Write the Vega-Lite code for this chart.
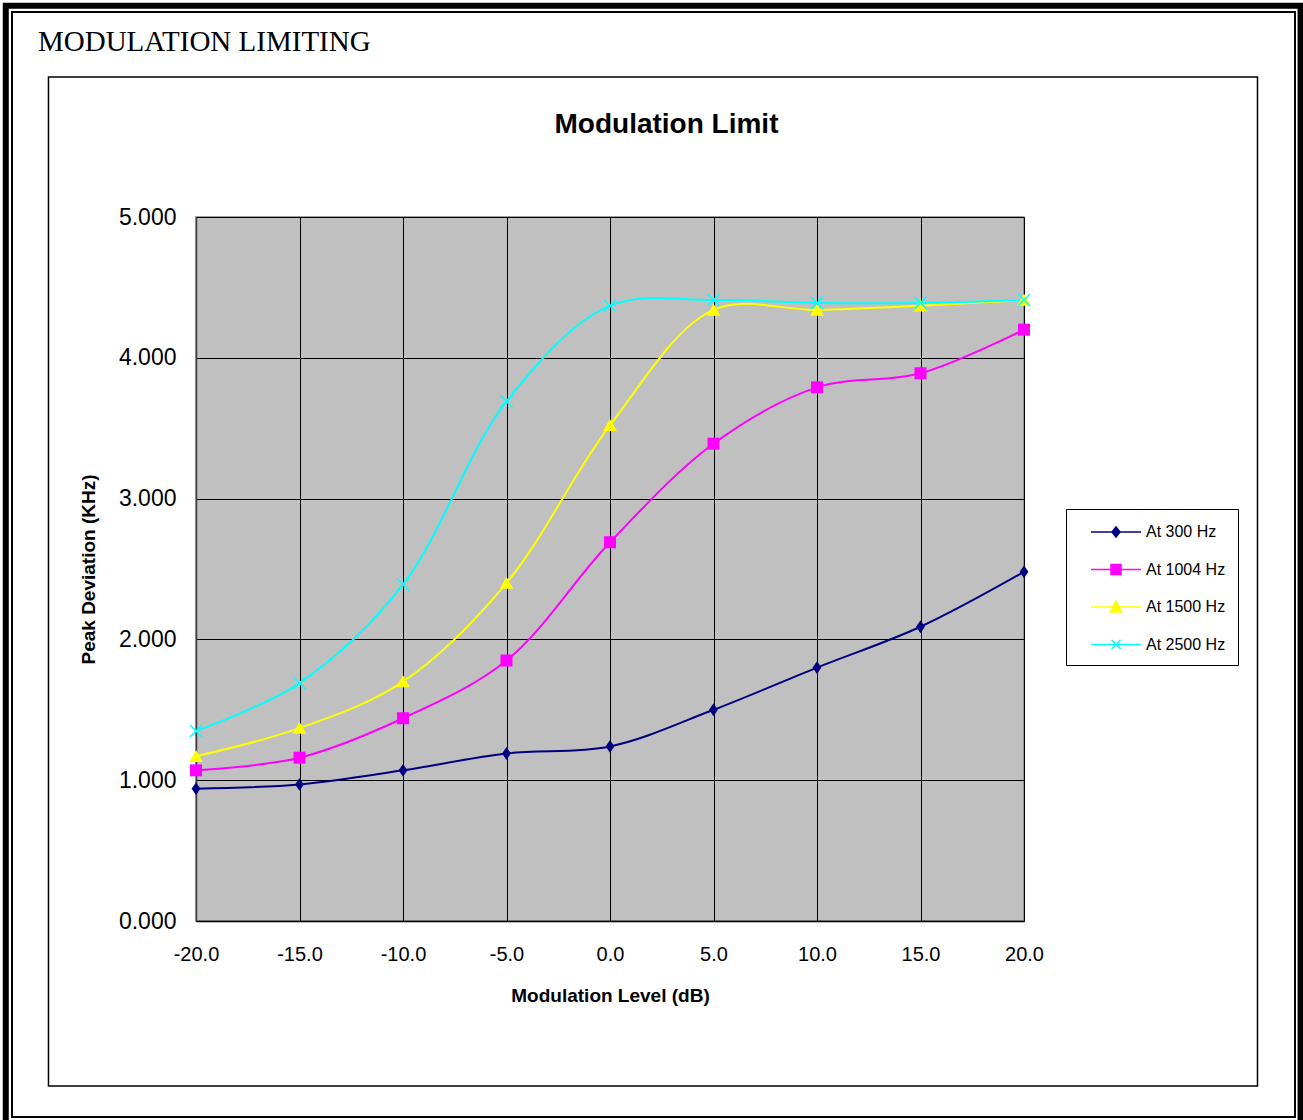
{
  "$schema": "https://vega.github.io/schema/vega-lite/v6.json",
  "width": 828,
  "height": 704,
  "autosize": {"type": "none"},
  "padding": {"left": 196, "top": 217, "right": 279, "bottom": 199},
  "background": "white",
  "title": {"text": "MODULATION LIMITING", "anchor": "start", "frame": "group", "dx": -158, "offset": -54, "font": "Liberation Serif", "fontSize": 29, "fontWeight": "normal", "color": "black"},
  "config": {
    "font": "Liberation Sans",
    "view": {"fill": "#C0C0C0", "stroke": "#808080", "strokeWidth": 1.5}
  },
  "data": {
    "values": [
      {"series": "At 300 Hz", "level": -20, "dev": 0.94},
      {"series": "At 300 Hz", "level": -15, "dev": 0.97},
      {"series": "At 300 Hz", "level": -10, "dev": 1.07},
      {"series": "At 300 Hz", "level": -5, "dev": 1.19},
      {"series": "At 300 Hz", "level": 0, "dev": 1.24},
      {"series": "At 300 Hz", "level": 5, "dev": 1.50},
      {"series": "At 300 Hz", "level": 10, "dev": 1.80},
      {"series": "At 300 Hz", "level": 15, "dev": 2.09},
      {"series": "At 300 Hz", "level": 20, "dev": 2.48},
      {"series": "At 1004 Hz", "level": -20, "dev": 1.07},
      {"series": "At 1004 Hz", "level": -15, "dev": 1.16},
      {"series": "At 1004 Hz", "level": -10, "dev": 1.44},
      {"series": "At 1004 Hz", "level": -5, "dev": 1.85},
      {"series": "At 1004 Hz", "level": 0, "dev": 2.69},
      {"series": "At 1004 Hz", "level": 5, "dev": 3.39},
      {"series": "At 1004 Hz", "level": 10, "dev": 3.79},
      {"series": "At 1004 Hz", "level": 15, "dev": 3.89},
      {"series": "At 1004 Hz", "level": 20, "dev": 4.20},
      {"series": "At 1500 Hz", "level": -20, "dev": 1.17},
      {"series": "At 1500 Hz", "level": -15, "dev": 1.37},
      {"series": "At 1500 Hz", "level": -10, "dev": 1.70},
      {"series": "At 1500 Hz", "level": -5, "dev": 2.40},
      {"series": "At 1500 Hz", "level": 0, "dev": 3.52},
      {"series": "At 1500 Hz", "level": 5, "dev": 4.34},
      {"series": "At 1500 Hz", "level": 10, "dev": 4.34},
      {"series": "At 1500 Hz", "level": 15, "dev": 4.37},
      {"series": "At 1500 Hz", "level": 20, "dev": 4.41},
      {"series": "At 2500 Hz", "level": -20, "dev": 1.35},
      {"series": "At 2500 Hz", "level": -15, "dev": 1.69},
      {"series": "At 2500 Hz", "level": -10, "dev": 2.39},
      {"series": "At 2500 Hz", "level": -5, "dev": 3.69},
      {"series": "At 2500 Hz", "level": 0, "dev": 4.37},
      {"series": "At 2500 Hz", "level": 5, "dev": 4.41},
      {"series": "At 2500 Hz", "level": 10, "dev": 4.39},
      {"series": "At 2500 Hz", "level": 15, "dev": 4.39},
      {"series": "At 2500 Hz", "level": 20, "dev": 4.41}
    ]
  },
  "layer": [
    {
      "data": {"values": [{}]},
      "mark": {"type": "rect", "filled": false, "stroke": "black", "strokeWidth": 6, "clip": false},
      "encoding": {
        "x": {"datum": -29.19, "type": "quantitative", "axis": null},
        "x2": {"datum": 33.36},
        "y": {"datum": 6.5, "type": "quantitative", "axis": null},
        "y2": {"datum": -1.449}
      }
    },
    {
      "data": {"values": [{}]},
      "mark": {"type": "rect", "filled": false, "stroke": "black", "strokeWidth": 2, "clip": false},
      "encoding": {
        "x": {"datum": -28.889, "type": "quantitative", "axis": null},
        "x2": {"datum": 33.092},
        "y": {"datum": 6.456, "type": "quantitative", "axis": null},
        "y2": {"datum": -1.392}
      }
    },
    {
      "data": {"values": [{}]},
      "mark": {"type": "rect", "filled": false, "stroke": "black", "strokeWidth": 1.5, "clip": false},
      "encoding": {
        "x": {"datum": -27.126, "type": "quantitative", "axis": null},
        "x2": {"datum": 31.28},
        "y": {"datum": 5.994, "type": "quantitative", "axis": null},
        "y2": {"datum": -1.172}
      }
    },
    {
      "mark": {"type": "line", "interpolate": "catmull-rom", "strokeWidth": 2},
      "encoding": {
        "x": {
          "field": "level", "type": "quantitative",
          "scale": {"domain": [-20, 20], "nice": false, "zero": false},
          "axis": {
            "values": [-20, -15, -10, -5, 0, 5, 10, 15, 20],
            "labelExpr": "(datum.value < 0 ? '-' : '') + format(abs(datum.value), '.1f')",
            "grid": true, "gridColor": "black", "gridWidth": 1, "gridOpacity": 1,
            "domainColor": "black", "domainWidth": 1.5, "ticks": false, "tickSize": 0,
            "labelFontSize": 20, "labelColor": "black", "labelPadding": 23, "labelFlush": false,
            "title": "Modulation Level (dB)", "titleFontSize": 19, "titleFontWeight": "bold", "titleColor": "black", "titlePadding": 22
          }
        },
        "y": {
          "field": "dev", "type": "quantitative",
          "scale": {"domain": [0, 5], "nice": false, "zero": true},
          "axis": {
            "values": [0, 1, 2, 3, 4, 5], "format": ".3f",
            "grid": true, "gridColor": "black", "gridWidth": 1, "gridOpacity": 1,
            "domainColor": "#404040", "domainWidth": 1.5, "ticks": false, "tickSize": 0,
            "labelFontSize": 23, "labelColor": "black", "labelPadding": 20,
            "title": "Peak Deviation (KHz)", "titleFontSize": 19, "titleFontWeight": "bold", "titleColor": "black", "titlePadding": 20
          }
        },
        "color": {
          "field": "series", "type": "nominal",
          "scale": {"domain": ["At 300 Hz", "At 1004 Hz", "At 1500 Hz", "At 2500 Hz"], "range": ["#000080", "#FF00FF", "#FFFF00", "#00FFFF"]},
          "legend": {
            "orient": "none", "legendX": 870, "legendY": 292, "title": null,
            "strokeColor": "black", "fillColor": "white", "padding": 12,
            "labelFontSize": 16, "labelFont": "Liberation Sans", "labelColor": "black",
            "symbolSize": 400, "symbolOffset": 27, "labelOffset": 19, "rowPadding": 18.5,
            "encode": {
              "symbols": {
                "update": {
                  "shape": {"signal": "datum.value === 'At 300 Hz' ? 'M-2.5,0H2.5M0,-0.5L0.4,0L0,0.5L-0.4,0Z' : datum.value === 'At 1004 Hz' ? 'M-2.5,0H2.5M-0.5,-0.5H0.5V0.5H-0.5Z' : datum.value === 'At 1500 Hz' ? 'M-2.5,0H2.5M0,-0.6L0.55,0.5H-0.55Z' : 'M-2.5,0H2.5M-0.45,-0.45L0.45,0.45M0.45,-0.45L-0.45,0.45'"},
                  "fill": {"signal": "scale('color', datum.value)"},
                  "stroke": {"signal": "scale('color', datum.value)"},
                  "strokeWidth": {"value": 1.5}
                }
              }
            }
          }
        }
      }
    },
    {
      "transform": [{"filter": "datum.series === 'At 300 Hz'"}],
      "mark": {"type": "point", "shape": "M0,-1.05L0.72,0L0,1.05L-0.72,0Z", "filled": true, "color": "#000080", "size": 150, "opacity": 1},
      "encoding": {
        "x": {
          "field": "level", "type": "quantitative",
          "axis": {
            "orient": "top", "title": "Modulation Limit", "labels": false, "ticks": false, "domain": false, "grid": false,
            "titleFontSize": 28, "titleFontWeight": "bold", "titleColor": "black",
            "titleX": 470, "titleY": -85, "titleAlign": "center", "titleBaseline": "alphabetic"
          }
        },
        "y": {"field": "dev", "type": "quantitative", "axis": null}
      }
    },
    {
      "transform": [{"filter": "datum.series === 'At 1004 Hz'"}],
      "mark": {"type": "point", "shape": "square", "filled": true, "color": "#FF00FF", "size": 144, "opacity": 1},
      "encoding": {
        "x": {"field": "level", "type": "quantitative", "axis": null},
        "y": {"field": "dev", "type": "quantitative", "axis": null}
      }
    },
    {
      "transform": [{"filter": "datum.series === 'At 1500 Hz'"}],
      "mark": {"type": "point", "shape": "M0,-1.05L1.15,0.95L-1.15,0.95Z", "filled": true, "color": "#FFFF00", "size": 144, "opacity": 1},
      "encoding": {
        "x": {"field": "level", "type": "quantitative", "axis": null},
        "y": {"field": "dev", "type": "quantitative", "axis": null}
      }
    },
    {
      "transform": [{"filter": "datum.series === 'At 2500 Hz'"}],
      "mark": {"type": "point", "shape": "M-1,-1L1,1M1,-1L-1,1", "filled": false, "color": "#00FFFF", "strokeWidth": 1.5, "size": 144, "opacity": 1},
      "encoding": {
        "x": {"field": "level", "type": "quantitative", "axis": null},
        "y": {"field": "dev", "type": "quantitative", "axis": null}
      }
    }
  ],
  "resolve": {"axis": {"x": "independent", "y": "independent"}}
}
